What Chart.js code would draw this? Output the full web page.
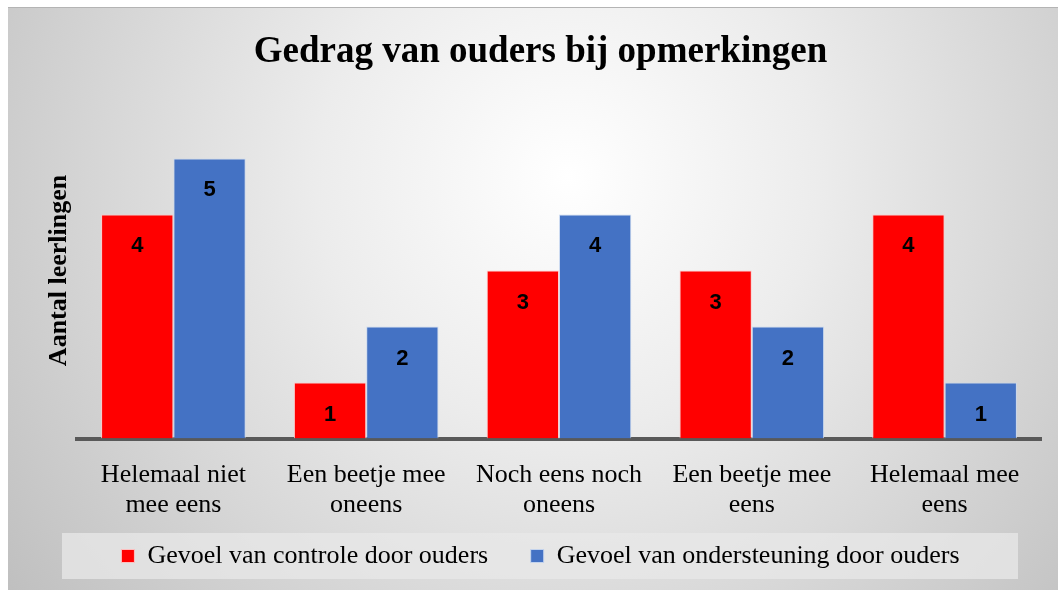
<!DOCTYPE html>
<html>
<head>
<meta charset="utf-8">
<script src="https://cdn.jsdelivr.net/npm/chart.js@4/dist/chart.umd.min.js"></script>
<style>
  html, body { margin: 0; padding: 0; background: #ffffff; }
  #wrap { position: absolute; left: 8px; top: 7px; width: 1050px; height: 583px; }
</style>
</head>
<body>
<div id="wrap"><canvas id="c" width="1050" height="583"></canvas></div>
<script>
const chartTitle = 'Gedrag van ouders bij opmerkingen';
const yAxisTitle = 'Aantal leerlingen';
const categories = [
  ['Helemaal niet', 'mee eens'],
  ['Een beetje mee', 'oneens'],
  ['Noch eens noch', 'oneens'],
  ['Een beetje mee', 'eens'],
  ['Helemaal mee', 'eens']
];
const seriesNames = ['Gevoel van controle door ouders', 'Gevoel van ondersteuning door ouders'];
const controleValues = [4, 1, 3, 3, 4];
const ondersteuningValues = [5, 2, 4, 2, 1];
const seriesColors = ['#FF0000', '#4472C4'];

const bgPlugin = {
  id: 'bgPlugin',
  beforeDraw(chart) {
    const ctx = chart.ctx;
    const w = chart.width, h = chart.height;
    ctx.save();
    const g = ctx.createRadialGradient(560, 170, 0, 560, 170, 720);
    g.addColorStop(0, '#ffffff');
    g.addColorStop(0.35, '#ececec');
    g.addColorStop(1, '#bdbdbd');
    ctx.fillStyle = g;
    ctx.fillRect(0, 0, w, h);
    ctx.fillStyle = '#b4b4b4';
    ctx.fillRect(0, 0, w, 1);
    // legend background box
    const lg = chart.legend;
    if (lg) {
      const pad = lg.options.labels.padding;
      const fs = lg.options.labels.font.size;
      const cy = lg.top + pad + fs / 2;
      ctx.fillStyle = 'rgba(232,232,232,0.75)';
      ctx.fillRect(chart.chartArea.left - 15, cy - 23, chart.chartArea.right - chart.chartArea.left - 8, 46);
    }
    ctx.restore();
  }
};

const labelPlugin = {
  id: 'labelPlugin',
  afterDatasetsDraw(chart) {
    const ctx = chart.ctx;
    ctx.save();
    ctx.font = 'bold 22px "Liberation Sans", Arial, sans-serif';
    ctx.fillStyle = '#000000';
    ctx.textAlign = 'center';
    ctx.textBaseline = 'middle';
    chart.data.datasets.forEach((ds, di) => {
      const meta = chart.getDatasetMeta(di);
      meta.data.forEach((bar, i) => {
        ctx.fillText(String(ds.data[i]), bar.x, bar.y + 32);
      });
    });
    ctx.restore();
  }
};

new Chart(document.getElementById('c'), {
  type: 'bar',
  data: {
    labels: categories,
    datasets: [
      {
        label: seriesNames[0] + '     ',
        data: controleValues,
        backgroundColor: seriesColors[0],
        borderColor: 'rgba(255,200,200,0.9)',
        borderWidth: 1
      },
      {
        label: seriesNames[1],
        data: ondersteuningValues,
        backgroundColor: seriesColors[1],
        borderColor: 'rgba(200,215,240,0.9)',
        borderWidth: 1
      }
    ]
  },
  options: {
    responsive: false,
    animation: false,
    devicePixelRatio: 1,
    layout: { padding: { left: 32, right: 17, top: 0, bottom: 11 } },
    datasets: { bar: { categoryPercentage: 0.75, barPercentage: 1.0 } },
    plugins: {
      title: {
        display: true,
        text: chartTitle,
        color: '#000000',
        font: { family: '"Liberation Serif", "Times New Roman", serif', size: 37, weight: 'bold' },
        padding: { top: 23, bottom: 28 }
      },
      legend: {
        display: true,
        position: 'bottom',
        labels: {
          color: '#000000',
          font: { family: '"Liberation Serif", "Times New Roman", serif', size: 26 },
          boxWidth: 13,
          boxHeight: 13,
          padding: 10
        }
      },
      tooltip: { enabled: false }
    },
    scales: {
      x: {
        grid: { display: false, drawTicks: false },
        border: { display: true, color: '#595959', width: 4 },
        ticks: {
          color: '#000000',
          padding: 22,
          maxRotation: 0,
          autoSkip: false,
          font: { family: '"Liberation Serif", "Times New Roman", serif', size: 26, lineHeight: 1.15 }
        },
        afterFit(scale) { scale.height = 94.5; }
      },
      y: {
        min: 0,
        max: 6,
        grid: { display: false, drawTicks: false },
        border: { display: false },
        ticks: { display: false, stepSize: 1 },
        title: {
          display: true,
          text: yAxisTitle,
          color: '#000000',
          font: { family: '"Liberation Serif", "Times New Roman", serif', size: 26, weight: 'bold' },
          padding: { top: 4, bottom: 4 }
        },
        afterFit(scale) { scale.width = 37; }
      }
    }
  },
  plugins: [bgPlugin, labelPlugin]
});
</script>
</body>
</html>
